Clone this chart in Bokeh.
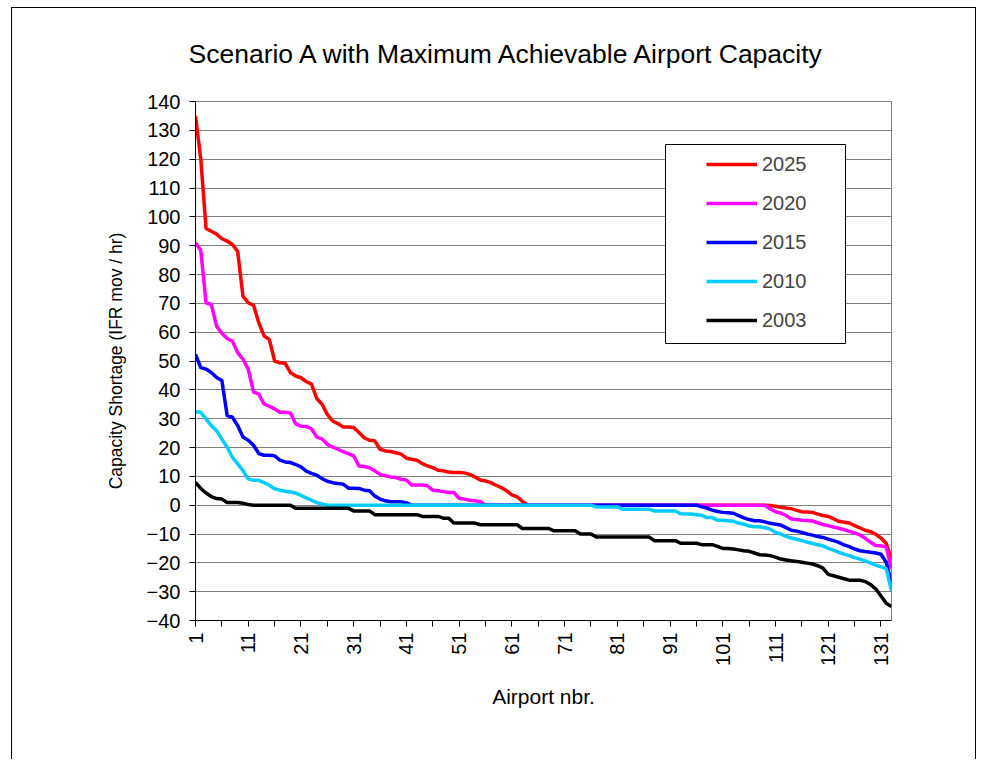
import math
from bokeh.plotting import figure
from bokeh.models import FixedTicker, Legend, LegendItem, BoxAnnotation, Range1d, Title
from bokeh.embed import file_html
from bokeh.resources import INLINE

FONT = "Liberation Sans"

TITLE = "Scenario A with Maximum Achievable Airport Capacity"
X_LABEL = "Airport nbr."
Y_LABEL = "Capacity Shortage (IFR mov / hr)"

airport = list(range(1, 134))

x_ticks = [1, 11, 21, 31, 41, 51, 61, 71, 81, 91, 101, 111, 121, 131]
x_minor = [6, 16, 26, 36, 46, 56, 66, 76, 86, 96, 106, 116, 126]
y_ticks = [-40, -30, -20, -10, 0, 10, 20, 30, 40, 50, 60, 70, 80, 90, 100, 110, 120, 130, 140]

years = ["2025", "2020", "2015", "2010", "2003"]
colors = ["#FF0000", "#FF00FF", "#0000FF", "#00CCFF", "#000000"]

y2025 = [
    135, 120, 96, 95, 94, 92.4, 91.6, 90.4, 88, 72.5,
    70.2, 69.3, 63.3, 58.7, 57.5, 50, 49.4, 49.2, 46, 44.8,
    44.2, 42.9, 42, 37, 35, 31.5, 29.2, 28.3, 27.1, 27.1,
    26.9, 25.2, 23.4, 22.5, 22.3, 19.4, 18.8, 18.6, 18.2, 17.7,
    16.3, 15.9, 15.6, 14.4, 13.6, 13.0, 12.1, 11.9, 11.5, 11.3,
    11.3, 11.2, 10.7, 9.8, 8.7, 8.4, 7.8, 6.9, 6.1, 5.0,
    3.6, 2.9, 1.3, 0, 0, 0, 0, 0, 0, 0,
    0, 0, 0, 0, 0, 0, 0, 0, 0, 0,
    0, 0, 0, 0, 0, 0, 0, 0, 0, 0,
    0, 0, 0, 0, 0, 0, 0, 0, 0, 0,
    0, 0, 0, 0, 0, 0, 0, 0, 0, -0.1,
    -0.4, -0.7, -1.0, -1.2, -1.8, -2.3, -2.4, -2.5, -3.1, -3.6,
    -3.9, -4.7, -5.6, -5.9, -6.2, -7.1, -7.9, -8.7, -9.2, -10.1,
    -11.4, -13.3, -18.7,
]

y2020 = [
    91, 88.4, 70.2, 69.6, 62.1, 59.6, 57.8, 56.9, 52.9, 50.6,
    47.2, 39.3, 38.5, 35.1, 34.3, 33.4, 32.2, 32.2, 32.0, 28.2,
    27.4, 27.3, 26.5, 23.6, 23.0, 21.1, 20.2, 19.4, 18.6, 17.9,
    17.1, 13.6, 13.4, 13.0, 11.9, 10.7, 10.2, 9.8, 9.6, 9.0,
    8.7, 7.0, 7.0, 7.0, 6.7, 5.2, 5.0, 4.7, 4.4, 4.4,
    2.4, 2.1, 1.7, 1.5, 1.3, 0, 0, 0, 0, 0,
    0, 0, 0, 0, 0, 0, 0, 0, 0, 0,
    0, 0, 0, 0, 0, 0, 0, 0, 0, 0,
    0, 0, 0, 0, 0, 0, 0, 0, 0, 0,
    0, 0, 0, 0, 0, 0, 0, 0, 0, 0,
    0, 0, 0, 0, 0, 0, 0, 0, -0.1, -1.2,
    -2.3, -2.7, -3.6, -4.8, -5.0, -5.2, -5.3, -5.5, -6.1, -6.7,
    -7.1, -7.6, -8.0, -8.5, -9.1, -9.6, -10.3, -11.5, -12.8, -14.0,
    -14.1, -14.5, -22.0,
]

y2015 = [
    52.3, 47.7, 47.2, 46.0, 44.3, 43.2, 31.1, 30.5, 27.6, 23.6,
    22.5, 20.8, 17.9, 17.3, 17.3, 17.1, 15.6, 15.0, 14.8, 14.1,
    13.3, 11.8, 11.0, 10.4, 9.2, 8.3, 7.8, 7.5, 7.3, 5.9,
    5.9, 5.8, 5.2, 5.0, 3.2, 2.1, 1.5, 1.2, 1.2, 1.2,
    0.8, 0, 0, 0, 0, 0, 0, 0, 0, 0,
    0, 0, 0, 0, 0, 0, 0, 0, 0, 0,
    0, 0, 0, 0, 0, 0, 0, 0, 0, 0,
    0, 0, 0, 0, 0, 0, 0, 0, 0, 0,
    0, 0, 0, 0, 0, 0, 0, 0, 0, 0,
    0, 0, 0, 0, 0, 0, -0.6, -1.0, -1.7, -2.2,
    -2.5, -2.6, -2.8, -3.6, -4.4, -5.0, -5.4, -5.4, -5.8, -6.3,
    -6.6, -6.9, -7.8, -8.7, -9.0, -9.5, -10.0, -10.4, -10.9, -11.2,
    -11.8, -12.3, -12.9, -13.8, -14.4, -15.2, -15.8, -16.1, -16.3, -16.6,
    -17.0, -19.8, -26.8,
]

y2010 = [
    32.4, 32.2, 29.9, 27.6, 25.8, 22.9, 20.1, 16.6, 14.3, 12.0,
    9.1, 8.6, 8.6, 7.8, 6.9, 5.7, 5.2, 4.8, 4.6, 4.2,
    3.4, 2.5, 1.7, 0.9, 0.4, 0, 0, 0, 0, 0,
    0, 0, 0, 0, 0, 0, 0, 0, 0, 0,
    0, 0, 0, 0, 0, 0, 0, 0, 0, 0,
    0, 0, 0, 0, 0, 0, 0, 0, 0, 0,
    0, 0, 0, 0, 0, 0, 0, 0, 0, 0,
    0, 0, 0, 0, 0, 0, -0.6, -0.6, -0.6, -0.6,
    -0.6, -1.4, -1.4, -1.4, -1.4, -1.4, -1.4, -2.0, -2.0, -2.0,
    -2.0, -2.0, -3.0, -3.1, -3.1, -3.3, -3.5, -4.3, -4.3, -5.2,
    -5.2, -5.4, -5.6, -6.2, -6.6, -7.2, -7.5, -7.5, -7.8, -8.3,
    -9.5, -10.0, -10.8, -11.4, -11.8, -12.3, -12.8, -13.3, -13.7, -14.1,
    -15.0, -15.6, -16.4, -17.0, -17.5, -18.2, -18.7, -19.3, -20.0, -20.8,
    -21.4, -22.0, -29.7,
]

y2003 = [
    7.9, 5.8, 4.2, 3.0, 2.3, 2.1, 0.9, 0.9, 0.9, 0.7,
    0.2, 0, 0, 0, 0, 0, 0, 0, 0, -1.1,
    -1.1, -1.1, -1.1, -1.1, -1.1, -1.1, -1.1, -1.1, -1.1, -1.1,
    -2.0, -2.0, -2.0, -2.0, -3.3, -3.3, -3.3, -3.3, -3.3, -3.3,
    -3.3, -3.3, -3.3, -3.9, -3.9, -3.9, -3.9, -4.5, -4.5, -6.2,
    -6.2, -6.2, -6.2, -6.2, -6.8, -6.8, -6.8, -6.8, -6.8, -6.8,
    -6.8, -6.8, -8.1, -8.1, -8.1, -8.1, -8.1, -8.1, -8.9, -8.9,
    -8.9, -8.9, -8.9, -10.0, -10.0, -10.0, -11.0, -11.0, -11.0, -11.0,
    -11.0, -11.0, -11.0, -11.0, -11.0, -11.0, -11.0, -12.3, -12.3, -12.3,
    -12.3, -12.3, -13.2, -13.2, -13.2, -13.2, -13.7, -13.7, -13.7, -14.3,
    -15.0, -15.0, -15.2, -15.5, -15.8, -16.0, -16.6, -17.2, -17.3, -17.5,
    -18.0, -18.7, -19.0, -19.3, -19.5, -19.8, -20.1, -20.4, -21.0, -21.8,
    -24.0, -24.5, -25.0, -25.5, -26.0, -26.0, -26.0, -26.5, -27.5, -29.0,
    -31.5, -34.0, -35.2,
]

series = [y2025, y2020, y2015, y2010, y2003]

p = figure(
    width=965, height=752,
    x_range=Range1d(1, 133), y_range=Range1d(-40, 140),
    output_backend="svg", toolbar_location=None,
    min_border_left=183, min_border_right=86,
    min_border_top=92, min_border_bottom=140,
    background_fill_color="white", border_fill_color="white",
)
p.styles = {
    "margin-left": "11px",
    "margin-top": "7px",
    "border-top": "1px solid #000000",
    "border-left": "1px solid #000000",
    "border-right": "1px solid #000000",
}
p.outline_line_color = "#808080"
p.outline_line_width = 1

p.title = Title(
    text=TITLE, align="left", vertical_align="top", offset=-7, standoff=61,
    text_font=FONT, text_font_size="26.5px", text_font_style="normal",
    text_color="#000000",
)

# axes
for ax in (p.xaxis[0], p.yaxis[0]):
    ax.axis_line_color = "#000000"
    ax.axis_line_width = 1
    ax.major_tick_line_color = "#000000"
    ax.major_tick_in = 0
    ax.major_tick_out = 6
    ax.major_label_text_font = FONT
    ax.major_label_text_font_size = "20px"
    ax.major_label_text_color = "#000000"
    ax.axis_label_text_font = FONT
    ax.axis_label_text_font_style = "normal"
    ax.axis_label_text_color = "#000000"

p.xaxis.ticker = FixedTicker(ticks=x_ticks, minor_ticks=x_minor)
p.xaxis.minor_tick_in = 0
p.xaxis.minor_tick_out = 6
p.xaxis.minor_tick_line_color = "#000000"
p.xaxis.major_label_orientation = math.pi / 2
p.xaxis.major_label_standoff = 6
p.xaxis.axis_label = X_LABEL
p.xaxis.axis_label_text_font_size = "21px"
p.xaxis.axis_label_standoff = 16

p.yaxis.ticker = FixedTicker(ticks=y_ticks)
p.yaxis.minor_tick_line_color = None
p.yaxis.major_label_standoff = 9
p.yaxis.axis_label = Y_LABEL
p.yaxis.axis_label_text_font_size = "17.5px"
p.yaxis.axis_label_standoff = 18

p.xgrid.visible = False
p.ygrid.grid_line_color = "#808080"
p.ygrid.grid_line_width = 1

renderers = []
for vals, col in zip(series, colors):
    r = p.line(airport, vals, line_color=col, line_width=3.5, line_join="round")
    renderers.append(r)

# legend box
box = BoxAnnotation(
    left=470, right=650, bottom=277, top=476,
    left_units="screen", right_units="screen", top_units="screen", bottom_units="screen",
    fill_color="white", fill_alpha=1.0, line_color="#000000", line_width=1, line_alpha=1.0,
)
p.add_layout(box)

legend = Legend(
    items=[LegendItem(label=y, renderers=[r]) for y, r in zip(years, renderers)],
    location=(511, 287), padding=0, spacing=13, glyph_height=26, glyph_width=51,
    label_standoff=5, label_text_font=FONT, label_text_font_size="20px",
    border_line_alpha=0, background_fill_alpha=0, margin=0,
)
p.add_layout(legend)

open("out.html", "w").write(file_html(p, INLINE))
